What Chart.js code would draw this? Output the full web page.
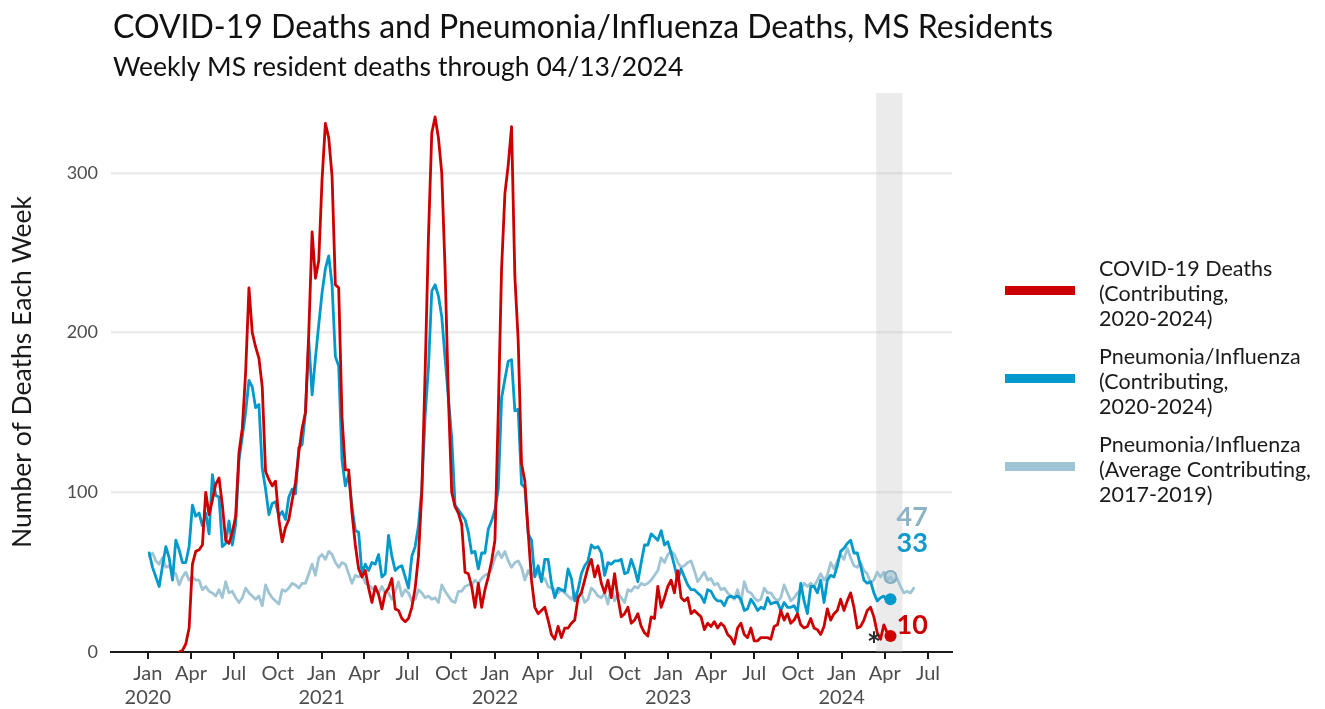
<!DOCTYPE html>
<html lang="en">
<head>
<meta charset="UTF-8">
<title>COVID-19 Deaths and Pneumonia/Influenza Deaths, MS Residents</title>
<script src="https://cdn.jsdelivr.net/npm/chart.js@4/dist/chart.umd.min.js"></script>
<style>
  html, body { margin: 0; padding: 0; background: #fff; }
  #wrap { position: relative; width: 1325px; height: 709px; }
</style>
</head>
<body>
<div id="wrap"><canvas id="chart" width="1325" height="709"></canvas></div>
<script>
// weekly values, first week ending 2020-01-04
const firstWeekEnding = '2020-01-04';

// null = no COVID-19 deaths reported yet
const covidDeaths = [
  null,null,null,null,null,null,null,null,null,0,
  1,5,15,55,63,64,67,100,86,95,
  105,109,92,70,68,75,85,125,140,175,
  228,200,191,184,166,113,108,104,107,83,
  69,78,83,95,106,125,140,150,200,263,
  234,245,296,331,322,298,230,228,147,114,
  114,87,67,52,47,51,40,31,41,36,
  27,37,40,46,27,26,21,19,21,28,
  40,60,100,175,260,325,335,322,300,240,
  160,100,91,87,80,50,49,41,28,43,
  28,39,47,57,70,150,240,287,305,329,
  235,195,118,107,75,45,28,24,26,28,
  20,11,8,16,9,15,15,18,20,34,
  37,45,53,58,47,54,43,37,45,34,
  49,34,22,24,28,18,20,24,16,12,
  10,22,21,41,28,34,41,45,37,51,
  34,32,34,24,26,24,22,14,18,16,
  19,15,18,16,11,9,5,15,18,11,
  9,15,7,7,9,9,9,8,16,17,
  26,20,24,18,20,24,17,15,16,21,
  15,14,11,16,27,20,24,26,33,26,
  32,37,28,15,16,20,26,28,22,12,
  8,17,12,10
];

const pneumoniaDeaths = [
  62,53,47,41,54,66,59,45,70,64,
  56,56,66,92,85,87,79,87,74,111,
  98,97,66,68,82,67,80,120,135,150,
  170,166,153,155,115,102,86,93,94,85,
  88,83,97,102,99,128,130,150,195,161,
  184,205,225,240,248,230,185,179,120,104,
  111,91,76,75,49,55,51,56,55,61,
  47,49,73,60,51,53,54,47,40,60,
  66,79,102,148,178,226,230,223,210,184,
  159,134,92,89,86,83,75,62,63,52,
  62,62,77,82,89,102,159,171,182,183,
  151,152,105,103,74,70,47,54,44,58,
  58,43,34,40,39,38,52,46,32,39,
  49,54,57,67,65,66,62,48,56,55,
  57,57,58,49,50,58,52,44,56,67,
  67,74,72,70,76,67,69,62,54,45,
  52,47,42,39,39,37,35,31,39,38,
  34,32,32,29,34,35,34,35,33,26,
  27,33,30,26,28,27,34,30,31,31,
  26,31,28,28,29,25,43,32,24,41,
  41,37,45,31,45,48,47,54,63,65,
  68,70,62,62,54,45,43,44,37,32,
  34,35,32,33
];

const pneumoniaAvg = [
  60,62,57,55,59,53,54,50,49,42,
  47,50,45,47,45,45,39,41,38,37,
  35,39,34,44,37,38,34,31,34,40,
  37,35,33,35,29,42,37,34,32,30,
  39,38,40,43,42,40,43,43,49,55,
  48,59,61,58,63,61,56,53,56,55,
  49,43,48,47,49,43,42,40,39,37,
  41,37,37,33,38,44,35,39,37,32,
  33,39,37,34,35,33,34,31,42,38,
  35,32,31,38,38,41,42,42,45,43,
  46,48,49,52,59,63,59,63,57,53,
  56,57,53,45,51,47,51,49,45,46,
  41,40,39,37,39,37,35,33,37,34,
  37,31,33,40,38,35,34,37,30,41,
  32,37,34,31,39,38,41,40,43,42,
  43,45,48,51,59,56,61,63,61,56,
  53,54,56,57,51,44,47,50,45,46,
  42,43,39,40,37,35,33,39,31,44,
  38,37,34,32,33,40,37,37,34,32,
  34,42,37,32,34,37,39,43,41,43,
  41,45,49,45,48,56,52,57,61,58,
  65,59,54,53,56,51,49,43,45,50,
  47,50,45,47,44,46,41,37,38,37,
  40
];

const tickDates = [
  '2020-01-01','2020-04-01','2020-07-01','2020-10-01',
  '2021-01-01','2021-04-01','2021-07-01','2021-10-01',
  '2022-01-01','2022-04-01','2022-07-01','2022-10-01',
  '2023-01-01','2023-04-01','2023-07-01','2023-10-01',
  '2024-01-01','2024-04-01','2024-07-01'
];
const tickLabels = [
  ['Jan','2020'],'Apr','Jul','Oct',
  ['Jan','2021'],'Apr','Jul','Oct',
  ['Jan','2022'],'Apr','Jul','Oct',
  ['Jan','2023'],'Apr','Jul','Oct',
  ['Jan','2024'],'Apr','Jul'
];
const yTicks = [0, 100, 200, 300];

const seriesNames = [
  ['COVID-19 Deaths', '(Contributing,', '2020-2024)'],
  ['Pneumonia/Influenza', '(Contributing,', '2020-2024)'],
  ['Pneumonia/Influenza', '(Average Contributing,', '2017-2019)']
];
const seriesColors = ['#cc0000', '#0099cc', '#9fc4d4'];
const labelColors = ['#cc0000', '#1199cc', '#8db3c6'];

// shaded band of recent weeks, and the week flagged with an asterisk
const bandStart = '2024-03-14';
const bandEnd = '2024-05-08';
const asteriskWeek = 218;
const asteriskLevel = 10;

const FONT = 'Lato, "Open Sans", sans-serif';
const DAY = 86400000;
const dayOf = s => (Date.parse(s) - Date.UTC(2020, 0, 1)) / DAY;
const weekDay = i => dayOf(firstWeekEnding) + 7 * i;
const toPoints = arr => arr.map((v, i) => ({ x: weekDay(i), y: v }));

const lastIdx = covidDeaths.length - 1;
const dataMin = weekDay(0);
const dataMax = weekDay(pneumoniaAvg.length - 1);
const span = dataMax - dataMin;

const decor = {
  id: 'decor',
  beforeDatasetsDraw(chart) {
    const { ctx, chartArea: a, scales: { x } } = chart;
    const x0 = x.getPixelForValue(dayOf(bandStart));
    const x1 = x.getPixelForValue(dayOf(bandEnd));
    ctx.save();
    ctx.fillStyle = 'rgba(190,190,190,0.3)';
    ctx.fillRect(x0, a.top, x1 - x0, a.bottom - a.top);
    ctx.restore();
  },
  afterDatasetsDraw(chart) {
    const { ctx, scales: { x, y } } = chart;
    ctx.save();
    ctx.fillStyle = '#2a2a2a';
    ctx.font = 'bold 34px ' + FONT;
    ctx.textAlign = 'center';
    ctx.textBaseline = 'alphabetic';
    ctx.fillText('*', x.getPixelForValue(weekDay(asteriskWeek)), y.getPixelForValue(asteriskLevel) + 21);

    // end-of-series value labels
    const lastVals = [covidDeaths[lastIdx], pneumoniaDeaths[lastIdx], pneumoniaAvg[lastIdx]];
    const labelY = [17, 68, 84.5];
    ctx.font = 'bold 27px ' + FONT;
    ctx.textAlign = 'left';
    ctx.textBaseline = 'middle';
    const lx = x.getPixelForValue(weekDay(lastIdx)) + 6;
    lastVals.forEach((v, k) => {
      ctx.fillStyle = labelColors[k];
      ctx.fillText(String(v), lx, y.getPixelForValue(labelY[k]));
    });
    ctx.restore();
  },
  afterDraw(chart) {
    const ctx = chart.ctx;
    ctx.save();
    ctx.fillStyle = '#111';
    ctx.textAlign = 'left';
    ctx.textBaseline = 'alphabetic';
    ctx.font = '32px ' + FONT;
    ctx.fillText('COVID-19 Deaths and Pneumonia/Influenza Deaths, MS Residents', 113, 38);
    ctx.font = '26.5px ' + FONT;
    ctx.fillText('Weekly MS resident deaths through 04/13/2024', 113, 76);

    // y axis title
    ctx.save();
    ctx.translate(31, 372);
    ctx.rotate(-Math.PI / 2);
    ctx.textAlign = 'center';
    ctx.font = '26.5px ' + FONT;
    ctx.fillStyle = '#1a1a1a';
    ctx.fillText('Number of Deaths Each Week', 0, 0);
    ctx.restore();

    // legend
    ctx.font = '21.5px ' + FONT;
    seriesNames.forEach((lines, k) => {
      const top = 276 + k * 88;
      ctx.fillStyle = seriesColors[k];
      ctx.fillRect(1005, top + 10, 70, 9);
      ctx.fillStyle = '#1a1a1a';
      lines.forEach((t, j) => ctx.fillText(t, 1099, top + j * 25));
    });
    ctx.restore();
  }
};

const markerRadius = c => (c.dataIndex === lastIdx ? 6 : 0);

new Chart(document.getElementById('chart'), {
  type: 'line',
  data: {
    datasets: [
      {
        label: 'COVID-19 Deaths',
        data: toPoints(covidDeaths),
        borderColor: seriesColors[0],
        backgroundColor: seriesColors[0],
        borderWidth: 2.8,
        pointRadius: markerRadius,
        pointBorderWidth: 0
      },
      {
        label: 'Pneumonia/Influenza',
        data: toPoints(pneumoniaDeaths),
        borderColor: seriesColors[1],
        backgroundColor: seriesColors[1],
        borderWidth: 2.8,
        pointRadius: markerRadius,
        pointBorderWidth: 0
      },
      {
        label: 'Pneumonia/Influenza (Average)',
        data: toPoints(pneumoniaAvg),
        borderColor: seriesColors[2],
        backgroundColor: 'rgba(150,190,208,0.55)',
        borderWidth: 2.8,
        pointRadius: markerRadius,
        pointBorderColor: '#85adc0',
        pointBorderWidth: 2
      }
    ]
  },
  options: {
    responsive: false,
    animation: false,
    devicePixelRatio: 1,
    events: [],
    elements: { line: { tension: 0, borderJoinStyle: 'round', borderCapStyle: 'round' } },
    layout: { padding: { left: 0, right: 373, top: 93, bottom: 0 } },
    plugins: { legend: { display: false }, tooltip: { enabled: false } },
    scales: {
      x: {
        type: 'linear',
        min: dataMin - 0.05 * span,
        max: dataMax + 0.05 * span,
        afterBuildTicks: s => { s.ticks = tickDates.map(d => ({ value: dayOf(d) })); },
        afterFit: s => { s.height = 57; },
        grid: { drawOnChartArea: false, drawTicks: true, tickLength: 7, color: '#1a1a1a', lineWidth: 2 },
        border: { display: true, color: '#1a1a1a', width: 2 },
        ticks: {
          autoSkip: false, maxRotation: 0, minRotation: 0, padding: 3,
          color: '#4d4d4d', font: { family: FONT, size: 20 },
          callback: (v, i) => tickLabels[i]
        }
      },
      y: {
        min: 0,
        max: 350,
        afterBuildTicks: s => { s.ticks = yTicks.map(v => ({ value: v })); },
        afterFit: s => { s.width = 111; },
        grid: {
          drawTicks: false,
          lineWidth: 2.5,
          color: c => (c.tick && c.tick.value === 0 ? 'rgba(0,0,0,0)' : '#ebebeb')
        },
        border: { display: false },
        ticks: { padding: 13, color: '#4d4d4d', font: { family: FONT, size: 18 } }
      }
    }
  },
  plugins: [decor]
});
</script>
</body>
</html>
